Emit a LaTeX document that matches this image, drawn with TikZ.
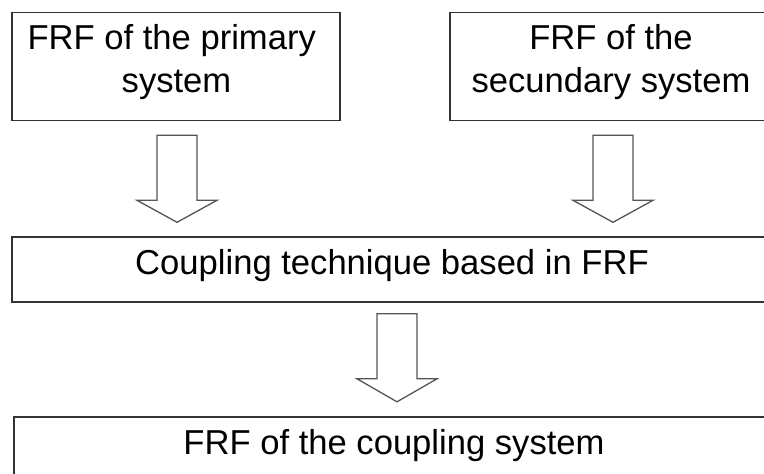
\documentclass[tikz,border=0pt]{standalone}
\usepackage{fontspec}
\setmainfont{Liberation Sans}
\usetikzlibrary{calc}
\definecolor{boxline}{HTML}{333333}
\definecolor{arrline}{HTML}{555555}
\tikzset{
  stagebox/.style={draw=boxline, line width=1.6pt, inner sep=0pt, fill=none},
  stagetext/.style={inner sep=0pt, align=center, font=\fontsize{34.6}{43}\selectfont, text=black},
  blockarrow/.style={draw=arrline, line width=1.3pt, fill=white, line join=miter},
}
\newcommand\downblock[4]{% name, top coordinate, shaft length, head length
  \draw[blockarrow] ($(#2)+(-20,0)$) -- ($(#2)+(20,0)$) -- ($(#2)+(20,#3)$) -- ($(#2)+(40,#3)$)
    -- ($(#2)+(0,#3+#4)$) coordinate (#1) -- ($(#2)+(-40,#3)$) -- ($(#2)+(-20,#3)$) -- cycle;}
\begin{document}
\begin{tikzpicture}[x=1pt,y=-1pt]
\useasboundingbox (0,0) rectangle (764,474);
\clip (0,0) rectangle (764,474);
\fill[white] (0,0) rectangle (764,474);
% boxes
\node[stagebox, minimum width=328pt, minimum height=108pt] (prim) at (176,66.5) {};
\node[stagebox, minimum width=322pt, minimum height=108pt] (sec) at (611,66.5) {};
\node[stagebox, minimum width=760pt, minimum height=65pt] (coup) at (392,269.5) {};
\node[stagebox, minimum width=760pt, minimum height=120pt] (res) at (394,477) {};
% texts
\node[stagetext] (primt) at (176.5,61.7) {FRF of the primary\kern9.6pt\\system};
\node[stagetext] (sect) at (611,61.7) {FRF of the\\secundary system};
\node[stagetext] (coupt) at (392,266) {Coupling technique based in FRF};
\node[stagetext] (rest) at (394,446) {FRF of the coupling system};
% block arrows
\coordinate (a1) at ($(prim.south)+(1,14)$);
\coordinate (a2) at ($(sec.south)+(2,14)$);
\coordinate (a3) at ($(coup.south)+(5,11)$);
\downblock{t1}{a1}{65}{22}
\downblock{t2}{a2}{65}{22}
\downblock{t3}{a3}{65}{23}
\end{tikzpicture}
\end{document}
